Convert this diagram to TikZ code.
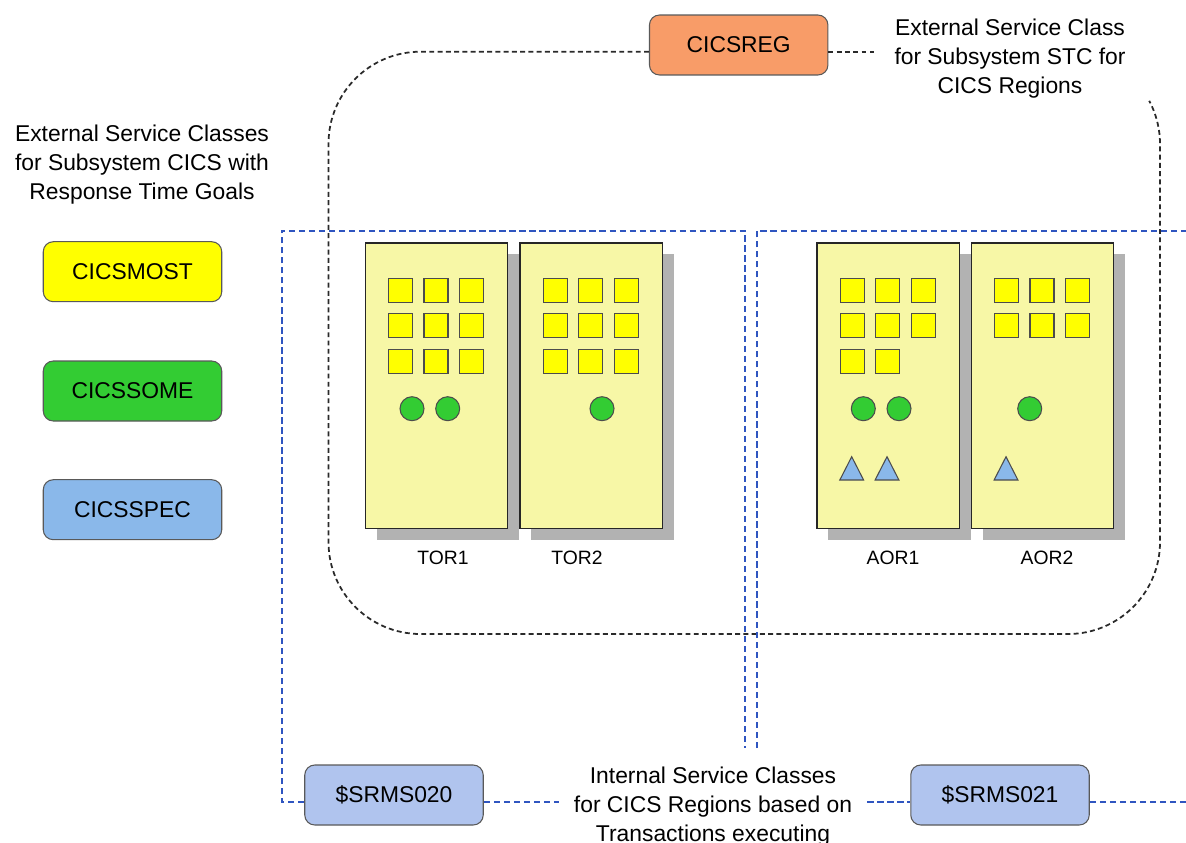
\documentclass[tikz,border=0pt]{standalone}
\usepackage{fontspec}
\setmainfont{Liberation Sans}
\usetikzlibrary{calc,shadows}

\definecolor{regfill}{HTML}{F7F7A6}
\definecolor{cellfill}{HTML}{FFFF00}
\definecolor{ballfill}{HTML}{33CC33}
\definecolor{specfill}{HTML}{8AB8EA}
\definecolor{stcfill}{HTML}{F89C68}
\definecolor{srmsfill}{HTML}{B0C4EE}
\definecolor{shadegray}{HTML}{B2B2B2}
\definecolor{srmsblue}{HTML}{2F55C0}
\definecolor{stcgray}{HTML}{2A2A2A}

\tikzset{
  classbox/.style={draw=black!65, line width=0.6pt, rounded corners=0.2cm,
    minimum width=3.57cm, minimum height=1.2cm, inner sep=0pt,
    font=\fontsize{13}{16}\selectfont},
  note/.style={align=center, font=\fontsize{13}{16.5}\selectfont},
  region/.style={draw=black!85, line width=0.7pt, fill=regfill, anchor=north west,
    minimum width=2.85cm, minimum height=5.71cm, inner sep=0pt,
    drop shadow={shadow xshift=0.23cm, shadow yshift=-0.23cm, draw=none, fill=shadegray, opacity=1}},
  regname/.style={font=\fontsize{11}{13}\selectfont},
  cell/.style={draw=black!70, line width=0.6pt, fill=cellfill},
  ball/.style={draw=black!70, line width=0.6pt, fill=ballfill},
  tri/.style={draw=black!70, line width=0.6pt, fill=specfill},
  stcline/.style={draw=stcgray, line width=1pt, dash pattern=on 2.8pt off 1.9pt},
  srmsline/.style={draw=srmsblue, line width=1.1pt, dash pattern=on 3.6pt off 2.1pt}
}

\begin{document}
\begin{tikzpicture}[x=0.02cm, y=-0.02cm]
\useasboundingbox (0,0) rectangle (1186,842);

% service classes
\node [classbox, fill=stcfill] (reg) at (738.7,45) {CICSREG};
\node [classbox, fill=cellfill] (most) at (132.5,271.7) {CICSMOST};
\node [classbox, fill=ballfill] (some) at (132.5,391) {CICSSOME};
\node [classbox, fill=specfill] (spec) at (132.5,509.7) {CICSSPEC};
\node [classbox, fill=srmsfill] (srms020) at (394,795) {\$SRMS020};
\node [classbox, fill=srmsfill] (srms021) at (1000,795) {\$SRMS021};

\node [note] (cicstext) at (142,165) {External Service Classes\\for Subsystem CICS with\\Response Time Goals};
\node [note, inner xsep=0.4cm] (stctext) at (1010,58.5) {External Service Class\\for Subsystem STC for\\CICS Regions};
\node [note, inner xsep=0.3cm] (intext) at (713,807) {Internal Service Classes\\for CICS Regions based on\\Transactions executing};

% regions
\node [region] (tor1) at (364.7,242.3) {};
\node [region] (tor2) at (519.3,242.3) {};
\node [region] (aor1) at (816.3,242.3) {};
\node [region] (aor2) at (970.7,242.3) {};
\node [regname] (tor1name) at (443,558) {TOR1};
\node [regname] (tor2name) at (577,558) {TOR2};
\node [regname] (aor1name) at (893,558) {AOR1};
\node [regname] (aor2name) at (1047,558) {AOR2};

\begin{scope}[shift={(tor1.north west)}]
\foreach \cx in {35.8,71.3,106.8} \foreach \cy in {48,83.5,119}
  \draw [cell] (\cx-12,\cy-12) rectangle ++(24,24);
\draw [ball] (47.3,166.4) circle [radius=12];
\draw [ball] (83,166.4) circle [radius=12];
\end{scope}

\begin{scope}[shift={(tor2.north west)}]
\foreach \cx in {35.8,71.3,106.8} \foreach \cy in {48,83.5,119}
  \draw [cell] (\cx-12,\cy-12) rectangle ++(24,24);
\draw [ball] (82.7,166.4) circle [radius=12];
\end{scope}

\begin{scope}[shift={(aor1.north west)}]
\foreach \cx in {35.8,71.3,106.8} \foreach \cy in {48,83.5}
  \draw [cell] (\cx-12,\cy-12) rectangle ++(24,24);
\foreach \cx in {35.8,71.3}
  \draw [cell] (\cx-12,119-12) rectangle ++(24,24);
\draw [ball] (47,166.4) circle [radius=12];
\draw [ball] (82.7,166.4) circle [radius=12];
\foreach \cx in {35.4,70.7}
  \draw [tri] (\cx-11.9,237.7) -- (\cx,214.4) -- (\cx+11.9,237.7) -- cycle;
\end{scope}

\begin{scope}[shift={(aor2.north west)}]
\foreach \cx in {35.8,71.3,106.8} \foreach \cy in {48,83.5}
  \draw [cell] (\cx-12,\cy-12) rectangle ++(24,24);
\draw [ball] (59,166.4) circle [radius=12];
\draw [tri] (35.3-11.9,237.7) -- (35.3,214.4) -- (35.3+11.9,237.7) -- cycle;
\end{scope}

% STC boundary
\coordinate (topline) at (0,51.7);
\coordinate (stcturn) at (1160,300);
\draw [stcline] (reg.east |- topline) -- (stctext.west |- topline);
\draw [stcline, rounded corners=1.84cm] (reg.west |- topline) -- (328.5,51.7)
  -- (328.5,634) -- (1160,634) -- (stcturn);
\draw [stcline] (stcturn) -- (1160,144) arc [start angle=0, end angle=-28, radius=92];

% internal service class boundaries
\coordinate (botline) at (0,801.7);
\coordinate (torcorner) at (281.7,230.7);
\coordinate (torend) at (745,748);
\coordinate (aorend) at (757,748);
\coordinate (aoredge) at (1186,230.7);
\coordinate (botedge) at (1186,801.7);
\draw [srmsline] (srms020.west |- botline) -| (torcorner) -| (torend);
\draw [srmsline] (aorend) |- (aoredge);
\draw [srmsline] (srms020.east |- botline) -- (intext.west |- botline);
\draw [srmsline] (intext.east |- botline) -- (srms021.west |- botline);
\draw [srmsline] (srms021.east |- botline) -- (botedge);
\end{tikzpicture}
\end{document}
